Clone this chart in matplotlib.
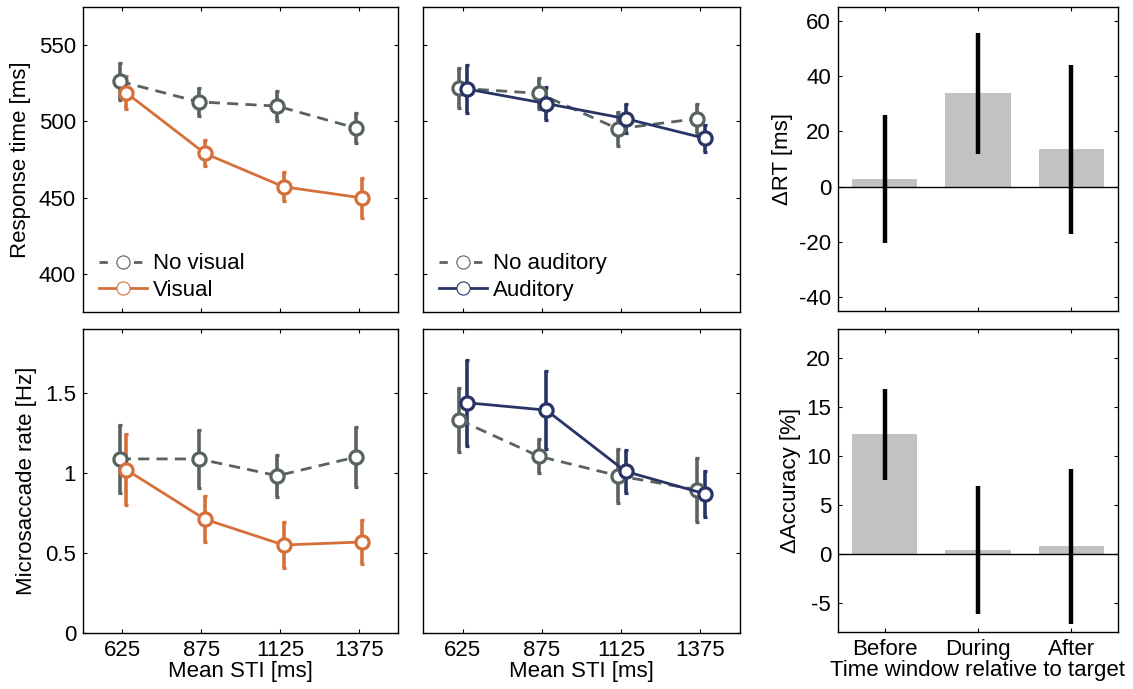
import matplotlib
matplotlib.use("Agg")
import matplotlib.pyplot as plt
from matplotlib.lines import Line2D
import numpy as np

plt.rcParams['font.family'] = ['Liberation Sans', 'DejaVu Sans']
plt.rcParams['axes.unicode_minus'] = False
FS = 16
plt.rcParams['font.size'] = FS

# ---------------- data ----------------
sti = [625, 875, 1125, 1375]
sti_labels = ['625', '875', '1125', '1375']

rt_novisual = [526.3, 512.8, 510.0, 495.6]
rt_novisual_err = [12, 9, 10, 10]
rt_visual = [518.8, 479.0, 457.1, 449.8]
rt_visual_err = [11, 8.5, 9.6, 13]

rt_noaud = [521.7, 518.4, 495.1, 501.8]
rt_noaud_err = [13, 10, 11, 9.5]
rt_aud = [521.2, 511.7, 501.8, 488.9]
rt_aud_err = [16, 11, 9.7, 8.8]

ms_novisual = [1.088, 1.088, 0.983, 1.100]
ms_novisual_err = [0.21, 0.18, 0.13, 0.19]
ms_visual = [1.021, 0.711, 0.550, 0.569]
ms_visual_err = [0.22, 0.145, 0.145, 0.135]

ms_noaud = [1.331, 1.105, 0.983, 0.895]
ms_noaud_err = [0.20, 0.107, 0.17, 0.20]
ms_aud = [1.439, 1.393, 1.010, 0.870]
ms_aud_err = [0.27, 0.246, 0.136, 0.143]

windows = ['Before', 'During', 'After']
d_rt = [2.8, 33.9, 13.7]
d_rt_err = [23.2, 21.9, 30.5]
d_rt_center = [2.65, 33.75, 13.5]
d_acc = [12.3, 0.34, 0.75]
d_acc_err = [4.67, 6.56, 7.97]
d_acc_center = [12.23, 0.36, 0.75]

# ---------------- style ----------------
GRAY = '#58635f'
ORANGE = '#d6703a'
NAVY = '#283466'
BARGRAY = '#c2c2c2'

W, H = 1133, 689
fig = plt.figure(figsize=(W / 100, H / 100), dpi=100)


def add_ax(x0, x1, y0, y1):
    return fig.add_axes([x0 / W, 1 - y1 / H, (x1 - x0) / W, (y1 - y0) / H])


def style(ax):
    ax.tick_params(direction='in', length=3, width=0.8, top=True, right=True,
                   labelsize=FS, pad=5)
    for s in ax.spines.values():
        s.set_linewidth(1.0)


def series(ax, x, y, e, color, dashed, off):
    xs = [v + off for v in x]
    ls = '--' if dashed else '-'
    eb = ax.errorbar(xs, y, yerr=e, color=color, ls=ls, lw=2.0, marker='o',
                     ms=9.5, mfc='white', mec=color, mew=2.3,
                     elinewidth=2.6, capsize=1.6, capthick=2.6, zorder=3)
    if dashed:
        eb.lines[0].set_dashes((4, 2.6))
    return eb


def legend(ax, labels, colors):
    h = [Line2D([], [], color=colors[0], lw=2.0, ls=(0, (3.0, 3.2)), marker='o', ms=9.5,
                mfc='white', mec=colors[0], mew=0.8),
         Line2D([], [], color=colors[1], lw=2.0, ls='-', marker='o', ms=9.5,
                mfc='white', mec=colors[1], mew=0.8)]
    ax.legend(h, labels, loc='lower left', bbox_to_anchor=(0.0, -0.015),
              frameon=False, handlelength=2.2, handletextpad=0.25,
              labelspacing=0.25, fontsize=FS, borderaxespad=0.3)


# ---- top-left
ax1 = add_ax(83, 398, 7, 312)
series(ax1, sti, rt_novisual, rt_novisual_err, GRAY, True, -8)
series(ax1, sti, rt_visual, rt_visual_err, ORANGE, False, 12)
ax1.set_xlim(500, 1500)
ax1.set_ylim(375, 575)
ax1.set_yticks([400, 450, 500, 550])
ax1.set_xticks(sti)
ax1.set_xticklabels([])
ax1.set_ylabel('Response time [ms]', fontsize=FS, labelpad=6)
style(ax1)
legend(ax1, ['No visual', 'Visual'], [GRAY, ORANGE])

# ---- top-middle
ax2 = add_ax(423, 740, 7, 312)
series(ax2, sti, rt_noaud, rt_noaud_err, GRAY, True, -10)
series(ax2, sti, rt_aud, rt_aud_err, NAVY, False, 14)
ax2.set_xlim(500, 1500)
ax2.set_ylim(375, 575)
ax2.set_yticks([400, 450, 500, 550])
ax2.set_yticklabels([])
ax2.set_xticks(sti)
ax2.set_xticklabels([])
style(ax2)
legend(ax2, ['No auditory', 'Auditory'], [GRAY, NAVY])

# ---- bottom-left
ax4 = add_ax(83, 398, 329, 633)
series(ax4, sti, ms_novisual, ms_novisual_err, GRAY, True, -8)
series(ax4, sti, ms_visual, ms_visual_err, ORANGE, False, 12)
ax4.set_xlim(500, 1500)
ax4.set_ylim(0, 1.9)
ax4.set_yticks([0, 0.5, 1, 1.5])
ax4.set_yticklabels(['0', '0.5', '1', '1.5'])
ax4.set_xticks(sti)
ax4.set_xticklabels(sti_labels)
ax4.set_xlabel('Mean STI [ms]', fontsize=FS, labelpad=0)
ax4.set_ylabel('Microsaccade rate [Hz]', fontsize=FS, labelpad=6)
style(ax4)

# ---- bottom-middle
ax5 = add_ax(423, 740, 329, 633)
series(ax5, sti, ms_noaud, ms_noaud_err, GRAY, True, -10)
series(ax5, sti, ms_aud, ms_aud_err, NAVY, False, 14)
ax5.set_xlim(500, 1500)
ax5.set_ylim(0, 1.9)
ax5.set_yticks([0, 0.5, 1, 1.5])
ax5.set_yticklabels([])
ax5.set_xticks(sti)
ax5.set_xticklabels(sti_labels)
ax5.set_xlabel('Mean STI [ms]', fontsize=FS, labelpad=0)
style(ax5)

# ---- bar panels
pos = np.arange(1, len(windows) + 1)

ax3 = add_ax(838, 1118, 7, 311)
ax3.bar(pos, d_rt, width=0.7, color=BARGRAY, zorder=1)
ax3.axhline(0, color='black', lw=1.0, zorder=2)
ax3.errorbar(pos, d_rt_center, yerr=d_rt_err, fmt='none', ecolor='black',
             elinewidth=3.2, capsize=0, zorder=3)
ax3.set_xlim(0.5, 3.5)
ax3.set_ylim(-45, 65)
ax3.set_yticks([-40, -20, 0, 20, 40, 60])
ax3.set_xticks(pos)
ax3.set_xticklabels([])
ax3.set_ylabel('\u0394RT [ms]', fontsize=FS, labelpad=4)
style(ax3)

ax6 = add_ax(838, 1118, 329, 632)
ax6.bar(pos, d_acc, width=0.7, color=BARGRAY, zorder=1)
ax6.axhline(0, color='black', lw=1.0, zorder=2)
ax6.errorbar(pos, d_acc_center, yerr=d_acc_err, fmt='none', ecolor='black',
             elinewidth=3.2, capsize=0, zorder=3)
ax6.set_xlim(0.5, 3.5)
ax6.set_ylim(-8, 23)
ax6.set_yticks([-5, 0, 5, 10, 15, 20])
ax6.set_xticks(pos)
ax6.set_xticklabels(windows)
ax6.set_xlabel('Time window relative to target', fontsize=FS, labelpad=0)
ax6.set_ylabel('\u0394Accuracy [%]', fontsize=FS, labelpad=4)
style(ax6)

fig.savefig('out.png', dpi=100)
